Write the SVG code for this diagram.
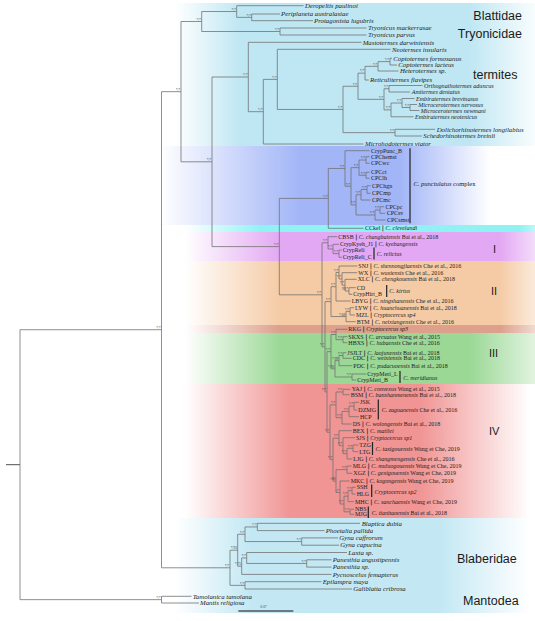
<svg xmlns="http://www.w3.org/2000/svg" width="535" height="621" viewBox="0 0 535 621">
<style>
.e{fill:none;stroke:#727272;stroke-width:0.8}
.t{font-family:"Liberation Serif",serif;font-style:italic;font-size:6.8px;fill:#222}
.tt{font-size:6.1px}
.c{font-family:"Liberation Serif",serif;font-size:6px;fill:#222}
.i{font-style:italic}
.b{font-family:"DejaVu Sans",sans-serif;font-weight:bold}
.s{font-family:"Liberation Serif",serif;font-size:3.6px;fill:#444;text-anchor:end}
.g{font-family:"Liberation Sans",Arial,sans-serif;font-size:12.5px;fill:#1a1a1a}
.r{font-family:"Liberation Sans",Arial,sans-serif;font-size:11px;fill:#1a1a1a}
.vb{stroke:#222;stroke-width:1.2}
</style>
<defs>
<linearGradient id="gTop" gradientUnits="userSpaceOnUse" x1="150" y1="0" x2="535" y2="0"><stop offset="0.065" stop-color="#bfe7f3" stop-opacity="0"/><stop offset="0.234" stop-color="#bfe7f3"/><stop offset="0.831" stop-color="#bfe7f3"/><stop offset="1" stop-color="#bfe7f3" stop-opacity="0.1"/></linearGradient>
<linearGradient id="gCpx" gradientUnits="userSpaceOnUse" x1="150" y1="0" x2="535" y2="0"><stop offset="0.026" stop-color="#a2b5f7" stop-opacity="0"/><stop offset="0.39" stop-color="#a2b5f7"/><stop offset="0.649" stop-color="#a2b5f7"/><stop offset="0.883" stop-color="#a2b5f7" stop-opacity="0"/></linearGradient>
<linearGradient id="gCyn" gradientUnits="userSpaceOnUse" x1="150" y1="0" x2="535" y2="0"><stop offset="0.091" stop-color="#90f3f3" stop-opacity="0"/><stop offset="0.286" stop-color="#90f3f3"/><stop offset="0.96" stop-color="#90f3f3"/><stop offset="1" stop-color="#90f3f3" stop-opacity="0.6"/></linearGradient>
<linearGradient id="gPnk" gradientUnits="userSpaceOnUse" x1="150" y1="0" x2="535" y2="0"><stop offset="0.091" stop-color="#e3a8f3" stop-opacity="0"/><stop offset="0.338" stop-color="#e3a8f3"/><stop offset="0.909" stop-color="#e3a8f3"/><stop offset="1" stop-color="#e3a8f3" stop-opacity="0.4"/></linearGradient>
<linearGradient id="gOrg" gradientUnits="userSpaceOnUse" x1="150" y1="0" x2="535" y2="0"><stop offset="0.091" stop-color="#f5cba6" stop-opacity="0"/><stop offset="0.338" stop-color="#f5cba6"/><stop offset="0.909" stop-color="#f5cba6"/><stop offset="1" stop-color="#f5cba6" stop-opacity="0.4"/></linearGradient>
<linearGradient id="gBrn" gradientUnits="userSpaceOnUse" x1="150" y1="0" x2="535" y2="0"><stop offset="0.091" stop-color="#dca08d" stop-opacity="0"/><stop offset="0.338" stop-color="#dca08d"/><stop offset="0.909" stop-color="#dca08d"/><stop offset="1" stop-color="#dca08d" stop-opacity="0.4"/></linearGradient>
<linearGradient id="gGrn" gradientUnits="userSpaceOnUse" x1="150" y1="0" x2="535" y2="0"><stop offset="0.091" stop-color="#9bd896" stop-opacity="0"/><stop offset="0.338" stop-color="#9bd896"/><stop offset="0.831" stop-color="#9bd896"/><stop offset="1" stop-color="#9bd896" stop-opacity="0.3"/></linearGradient>
<linearGradient id="gRed" gradientUnits="userSpaceOnUse" x1="150" y1="0" x2="535" y2="0"><stop offset="0.091" stop-color="#f19494" stop-opacity="0"/><stop offset="0.364" stop-color="#f19494"/><stop offset="0.701" stop-color="#f19494"/><stop offset="0.987" stop-color="#f19494" stop-opacity="0"/></linearGradient>
<linearGradient id="gBlb" gradientUnits="userSpaceOnUse" x1="150" y1="0" x2="535" y2="0"><stop offset="0.065" stop-color="#c3e8f4" stop-opacity="0"/><stop offset="0.26" stop-color="#c3e8f4"/><stop offset="0.753" stop-color="#c3e8f4"/><stop offset="0.987" stop-color="#c3e8f4" stop-opacity="0"/></linearGradient>
</defs>
<rect width="535" height="621" fill="#fff"/>
<g id="bands">
<rect x="150" y="3" width="385" height="143" fill="url(#gTop)"/>
<rect x="150" y="146" width="385" height="79" fill="url(#gCpx)"/>
<rect x="150" y="225" width="385" height="7" fill="url(#gCyn)"/>
<rect x="150" y="232" width="385" height="29" fill="url(#gPnk)"/>
<rect x="150" y="261" width="385" height="64" fill="url(#gOrg)"/>
<rect x="150" y="325" width="385" height="8" fill="url(#gBrn)"/>
<rect x="150" y="333" width="385" height="51" fill="url(#gGrn)"/>
<rect x="150" y="384" width="385" height="134" fill="url(#gRed)"/>
<rect x="150" y="518" width="385" height="95" fill="url(#gBlb)"/>
</g>
<g id="connectors">
<path d="M6,464.69H20" stroke="#222" stroke-width="0.8" fill="none"/>
<path class="e" d="M20,329.73V599.65M20,329.73H161.5M20,599.65H161.5
M161.5,596.3V603M161.5,596.3H191.5M161.5,603H199
M161.5,91.66V567.79M161.5,91.66H181M161.5,567.79H230
M181,21.51V161.8M181,21.51H201.7M181,161.8H212
M201.7,11.525V31.5M201.7,11.525H236.7M201.7,31.5H280
M236.7,5.7V17.35M236.7,5.7H303.5M236.7,17.35H251.7
M251.7,14V20.7M251.7,14H280M251.7,20.7H313
M280,28V35M280,28H366.5M280,35H366.5
M212,77V246.6M212,77H248.3M212,246.6H279.3
M248.3,42.3V111.69M248.3,42.3H361.5M248.3,111.69H263.3
M263.3,79.38V144M263.3,79.38H277.3M263.3,144H363.5
M277.3,49.3V109.45M277.3,49.3H390.5M277.3,109.45H343
M343,86.25V132.65M343,86.25H358M343,132.65H395
M358,73.16V99.33M358,73.16H365M358,99.33H384
M365,66.33V80M365,66.33H378M365,80H368.8
M378,61.65V71M378,61.65H390M378,71H398.5
M390,58.3V65M390,58.3H392M390,65H397
M384,88.75V109.9M384,88.75H389M384,109.9H391
M389,85.5V92M389,85.5H422.5M389,92H410
M391,103V116.8M391,103H402M391,116.8H413.5
M402,98.5V107.5M402,98.5H414.5M402,107.5H410
M410,104.5V110.5M410,104.5H417M410,110.5H419.5
M395,129.3V136M395,129.3H435M395,136H422
M279.3,198.39V294.82M279.3,198.39H328.3M279.3,294.82H322
M328.3,168.48V228.3M328.3,168.48H345M328.3,228.3H363.5
M345,150.7V186.26M345,150.7H369.5M345,186.26H351
M351,167.65V204.88M351,167.65H359M351,204.88H356
M359,160V175.3M359,160H366M359,175.3H366
M366,156.7V163.3M366,156.7H369.5M366,163.3H369.5
M366,172.3V178.3M366,172.3H369.5M366,178.3H369.5
M356,194.75V215M356,194.75H361M356,215H375
M361,189.5V200M361,189.5H367M361,200H370.5
M367,185.7V193.3M367,185.7H370.5M367,193.3H370.5
M375,210V220M375,210H380M375,220H385.5
M380,206.7V213.3M380,206.7H384M380,213.3H385
M322,242.84V346.79M322,242.84H328M322,346.79H325
M328,236.7V248.98M328,236.7H337.3M328,248.98H333
M333,244.3V253.65M333,244.3H339M333,253.65H339
M339,250V257.3M339,250H341.7M339,257.3H341.7
M325,301.63V391.95M325,301.63H331M325,391.95H327
M331,286.73V316.53M331,286.73H336M331,316.53H346
M336,272.46V301M336,272.46H339M336,301H350.7
M339,266V278.93M339,266H357.3M339,278.93H342
M342,272.7V285.15M342,272.7H357.3M342,285.15H345
M345,279.3V291M345,279.3H356.7M345,291H349
M349,287.7V294.3M349,287.7H355.7M349,294.3H352.3
M346,311.35V321.7M346,311.35H350M346,321.7H355.7
M350,307.7V315M350,307.7H354M350,315H355
M327,351.65V432.25M327,351.65H331M327,432.25H330
M331,334.5V368.8M331,334.5H336M331,368.8H335
M336,329.3V339.7M336,329.3H347.3M336,339.7H343
M343,336.7V342.7M343,336.7H347.3M343,342.7H347.3
M335,360.6V377M335,360.6H339M335,377H352
M339,355.5V365.7M339,355.5H343M339,365.7H352.3
M343,352.7V358.3M343,352.7H346.3M343,358.3H351.7
M352,374V380M352,374H366.3M352,380H356.3
M330,404.86V459.64M330,404.86H336M330,459.64H333
M336,392V417.71M336,392H343M336,417.71H342
M343,389.3V394.7M343,389.3H350.7M343,394.7H349.7
M342,411.43V424M342,411.43H349M342,424H351.7
M349,406.15V416.7M349,406.15H354M349,416.7H359
M354,402.3V410M354,402.3H359M354,410H357.3
M333,438.2V481.08M333,438.2H339M333,481.08H336
M339,430.7V445.69M339,430.7H351.7M339,445.69H343
M343,437.7V453.68M343,437.7H355M343,453.68H347
M347,448.35V459M347,448.35H353M347,459H352.3
M353,445V451.7M353,445H358.3M353,451.7H358.3
M336,469.65V492.5M336,469.65H347M336,492.5H340
M347,466V473.3M347,466H351.7M347,473.3H352.3
M340,481V503.99M340,481H349.7M340,503.99H344
M344,496.18V511.8M344,496.18H348M344,511.8H350
M348,490.65V501.7M348,490.65H352M348,501.7H354
M352,487.3V494M352,487.3H355.7M352,494H355.7
M350,509.3V514.3M350,509.3H354M350,514.3H354
M230,550.22V585.35M230,550.22H237.7M230,585.35H245
M237.7,534.25V566.19M237.7,534.25H245M237.7,566.19H241.7
M245,526.95V541.55M245,526.95H257.3M245,541.55H301.7
M257.3,523.3V530.6M257.3,523.3H360M257.3,530.6H324.5
M301.7,537.9V545.2M301.7,537.9H338M301.7,545.2H339
M241.7,557.98V574.4M241.7,557.98H246.7M241.7,574.4H331.5
M246.7,552.5V563.45M246.7,552.5H347M246.7,563.45H306.7
M306.7,559.8V567.1M306.7,559.8H331.5M306.7,567.1H331.5
M245,581.7V589M245,581.7H321.5M245,589H352"/>
<path class="vb" d="M410,148.3V223.3M374,247.5V259.5M386.7,285V297M400,371V383M378.3,399.5V419.5M372.5,442V455M371.7,484.5V497M368.3,506.5V518"/>
</g>
<g id="support">
<text class="s" x="160.9" y="598.85">*/*</text><text class="s" x="160.9" y="328.9">*/*</text>
<text class="s" x="180.4" y="90.9">*/*</text><text class="s" x="201.1" y="20.7">*/*</text>
<text class="s" x="236.1" y="10.7">*/*</text><text class="s" x="251.1" y="16.5">*/*</text>
<text class="s" x="279.4" y="30.7">*/*</text><text class="s" x="211.4" y="161">*/*</text>
<text class="s" x="247.7" y="76.2">*/*</text><text class="s" x="262.7" y="110.9">*/*</text>
<text class="s" x="276.7" y="78.6">*/*</text><text class="s" x="342.4" y="108.6">*/*</text>
<text class="s" x="357.4" y="85.5">*/*</text><text class="s" x="364.4" y="72.4">*/*</text>
<text class="s" x="377.4" y="65.5">*/*</text><text class="s" x="389.4" y="60.9">*/*</text>
<text class="s" x="383.4" y="98.5">*/*</text><text class="s" x="388.4" y="88">*/*</text>
<text class="s" x="390.4" y="109.1">*/*</text><text class="s" x="401.4" y="102.2">*/*</text>
<text class="s" x="409.4" y="106.7">*/*</text><text class="s" x="394.4" y="131.8">*/*</text>
<text class="s" x="278.7" y="245.8">*/*</text><text class="s" x="327.7" y="197.6">*/*</text>
<text class="s" x="344.4" y="167.7">*/*</text><text class="s" x="350.4" y="185.5">*/*</text>
<text class="s" x="358.4" y="166.8">*/*</text><text class="s" x="365.4" y="159.2">*/*</text>
<text class="s" x="365.4" y="174.5">*/*</text><text class="s" x="355.4" y="204.1">*/*</text>
<text class="s" x="360.4" y="194">*/*</text><text class="s" x="366.4" y="188.7">*/*</text>
<text class="s" x="374.4" y="214.2">*/*</text><text class="s" x="379.4" y="209.2">*/*</text>
<text class="s" x="321.4" y="294">*/*</text><text class="s" x="327.4" y="242">*/*</text>
<text class="s" x="332.4" y="248.2">*/*</text><text class="s" x="338.4" y="252.9">*/*</text>
<text class="s" x="324.4" y="346">*/*</text><text class="s" x="330.4" y="300.8">*/*</text>
<text class="s" x="335.4" y="285.9">*/*</text><text class="s" x="338.4" y="271.7">*/*</text>
<text class="s" x="341.4" y="278.1">*/*</text><text class="s" x="344.4" y="284.4">*/*</text>
<text class="s" x="348.4" y="290.2">99/*</text><text class="s" x="345.4" y="315.7">*/68</text>
<text class="s" x="349.4" y="310.6">*/*</text><text class="s" x="326.4" y="391.2">*/*</text>
<text class="s" x="330.4" y="350.9">*/*</text><text class="s" x="335.4" y="333.7">*/*</text>
<text class="s" x="342.4" y="338.9">*/*</text><text class="s" x="334.4" y="368">*/90</text>
<text class="s" x="338.4" y="359.8">*/99</text><text class="s" x="342.4" y="354.7">*/*</text>
<text class="s" x="351.4" y="376.2">*/*</text><text class="s" x="329.4" y="431.5">*/*</text>
<text class="s" x="335.4" y="404.1">*/*</text><text class="s" x="342.4" y="391.2">*/*</text>
<text class="s" x="341.4" y="416.9">*/*</text><text class="s" x="348.4" y="410.6">*/*</text>
<text class="s" x="353.4" y="405.4">*/*</text><text class="s" x="332.4" y="458.8">*/*</text>
<text class="s" x="338.4" y="437.4">*/*</text><text class="s" x="342.4" y="444.9">*/*</text>
<text class="s" x="346.4" y="452.9">*/*</text><text class="s" x="352.4" y="447.6">*/*</text>
<text class="s" x="335.4" y="480.3">-/88</text><text class="s" x="346.4" y="468.9">*/*</text>
<text class="s" x="339.4" y="491.7">-/*</text><text class="s" x="343.4" y="503.2">*/*</text>
<text class="s" x="347.4" y="495.4">*/*</text><text class="s" x="351.4" y="489.9">*/*</text>
<text class="s" x="349.4" y="511">*/*</text><text class="s" x="229.4" y="567">*/*</text>
<text class="s" x="237.1" y="549.4">*/93</text><text class="s" x="244.4" y="533.5">*/*</text>
<text class="s" x="256.7" y="526.2">*/*</text><text class="s" x="301.1" y="540.8">*/*</text>
<text class="s" x="241.1" y="565.4">*/75</text><text class="s" x="246.1" y="557.2">*/*</text>
<text class="s" x="306.1" y="562.7">*/*</text><text class="s" x="244.4" y="584.6">*/*</text>
</g>
<g id="n-blattidae"><text class="t" x="305" y="7.9">Deropeltis paulinoi</text><text class="t" x="281" y="16.2">Periplaneta australasiae</text><text class="t" x="314" y="22.9">Protagonista lugubris</text></g>
<g id="n-tryonicidae"><text class="t" x="368" y="30.2">Tryonicus mackerrasae</text><text class="t" x="368" y="37.2">Tryonicus parvus</text></g>
<g id="n-termites">
<text class="t" x="362.7" y="44.5">Mastotermes darwiniensis</text>
<text class="t" x="392" y="51.5">Neotermes insularis</text>
<text class="t" x="393.3" y="60.5">Coptotermes formosanus</text>
<text class="t" x="398.3" y="67.2">Coptotermes lacteus</text>
<text class="t" x="400" y="73.2">Heterotermes sp.</text>
<text class="t" x="370" y="82.2">Reticulitermes flavipes</text>
<text class="t tt" x="424" y="87.6">Orthognathotermes aduncus</text>
<text class="t tt" x="411.7" y="94.1">Amitermes dentatus</text>
<text class="t tt" x="416" y="100.6">Embiratermes brevinasus</text>
<text class="t tt" x="418.3" y="106.6">Microcerotermes nervosus</text>
<text class="t tt" x="420.7" y="112.6">Microcerotermes newmani</text>
<text class="t tt" x="415" y="118.9">Embiratermes neotenicus</text>
<text class="t" x="436.7" y="131.5">Dolichorhinotermes longilabius</text>
<text class="t" x="423.3" y="138.2">Schedorhinotermes breinli</text>
<text class="t" x="365" y="146.2">Microhodotermes viator</text>
</g>
<g id="n-punctulatus">
<text class="c" x="371" y="152.7">CrypPunc_B</text><text class="c" x="371" y="158.7">CPChemst</text>
<text class="c" x="371" y="165.3">CPCwc</text><text class="c" x="371" y="174.3">CPCct</text>
<text class="c" x="371" y="180.3">CPClh</text><text class="c" x="372" y="187.7">CPChgn</text>
<text class="c" x="372" y="195.3">CPCmp</text><text class="c" x="372" y="202">CPCmc</text>
<text class="c" x="385.5" y="208.7">CPCpc</text><text class="c" x="386.7" y="215.3">CPCsv</text>
<text class="c" x="387" y="222">CPCsmst</text>
<text class="c" x="413.5" y="185.5" style="font-size:6.5px"><tspan class="i">C. punctulatus</tspan> complex</text>
</g>
<g id="n-clevelandi"><text class="c" x="365" y="230.3">CCkel <tspan class="b">|</tspan> <tspan class="i">C. clevelandi</tspan></text></g>
<g id="n-group1">
<text class="c" x="338.3" y="238.7">CBSB <tspan class="b">|</tspan> <tspan class="i">C. changbaiensis</tspan> Bai et al., 2018</text>
<text class="c" x="340" y="246.3">CrypKyeh_J1 <tspan class="b">|</tspan> <tspan class="i">C. kyebangensis</tspan></text>
<text class="c" x="342.7" y="252">CrypReli</text><text class="c" x="342.7" y="259.3">CrypReli_C</text>
<text class="c i" x="376.7" y="256.3">C. relictus</text>
</g>
<g id="n-group2">
<text class="c" x="358.3" y="268">SNJ <tspan class="b">|</tspan> <tspan class="i">C. shennongjiaensis</tspan> Che et al., 2016</text>
<text class="c" x="358.3" y="274.7">WX <tspan class="b">|</tspan> <tspan class="i">C. wuxiensis</tspan> Che et al., 2016</text>
<text class="c" x="357.7" y="281.3">XLC <tspan class="b">|</tspan> <tspan class="i">C. chengkouensis</tspan> Bai et al., 2018</text>
<text class="c" x="356.7" y="289.7">CD</text><text class="c" x="353.3" y="296.3">CrypHirt_B</text>
<text class="c i" x="389.3" y="293">C. kirtus</text>
<text class="c" x="351.7" y="303">LBYG <tspan class="b">|</tspan> <tspan class="i">C. ningshanensis</tspan> Che et al., 2016</text>
<text class="c" x="355" y="309.7">LYW <tspan class="b">|</tspan> <tspan class="i">C. huanchuanensis</tspan> Bai et al., 2018</text>
<text class="c" x="356" y="317">MZL <tspan class="b">|</tspan> <tspan class="i">Cryptocercus sp4</tspan></text>
<text class="c" x="356.7" y="323.7">BTM <tspan class="b">|</tspan> <tspan class="i">C. neixiangensis</tspan> Che et al., 2016</text>
</g>
<g id="n-group3">
<text class="c" x="348.3" y="331.3">RKG <tspan class="b">|</tspan> <tspan class="i">Cryptocercus sp3</tspan></text>
<text class="c" x="348.3" y="338.7">SKXS <tspan class="b">|</tspan> <tspan class="i">C. arcuatus</tspan> Wang et al., 2015</text>
<text class="c" x="348.3" y="344.7">HBXS <tspan class="b">|</tspan> <tspan class="i">C. hubaensis</tspan> Che et al., 2016</text>
<text class="c" x="347.3" y="354.7">JSJLT <tspan class="b">|</tspan> <tspan class="i">C. laojunensis</tspan> Bai et al., 2018</text>
<text class="c" x="352.7" y="360.3">CDC <tspan class="b">|</tspan> <tspan class="i">C. weixiensis</tspan> Bai et al., 2018</text>
<text class="c" x="353.3" y="367.7">PDC <tspan class="b">|</tspan> <tspan class="i">C. pudacuoensis</tspan> Bai et al., 2018</text>
<text class="c" x="367.3" y="376">CrypMeri_L</text><text class="c" x="357.3" y="382">CrypMeri_B</text>
<text class="c i" x="403.3" y="379.7">C. meridianus</text>
</g>
<g id="n-group4">
<text class="c" x="351.7" y="391.3">YAJ <tspan class="b">|</tspan> <tspan class="i">C. convexus</tspan> Wang et al., 2015</text>
<text class="c" x="350.7" y="396.7">BSM <tspan class="b">|</tspan> <tspan class="i">C. banshanmenensis</tspan> Bai et al., 2018</text>
<text class="c" x="360" y="404.3">JSK</text><text class="c" x="358.3" y="412">DZMG</text><text class="c" x="360" y="418.7">HCP</text>
<text class="c" x="381.7" y="412"><tspan class="i">C. zaguanensis</tspan> Che et al., 2016</text>
<text class="c" x="352.7" y="426">DS <tspan class="b">|</tspan> <tspan class="i">C. wolongensis</tspan> Bai et al., 2018</text>
<text class="c" x="352.7" y="432.7">BEX <tspan class="b">|</tspan> <tspan class="i">C. matilei</tspan></text>
<text class="c" x="356" y="439.7">SJS <tspan class="b">|</tspan> <tspan class="i">Cryptocercus sp1</tspan></text>
<text class="c" x="359.3" y="447">TZG</text><text class="c" x="359.3" y="453.7">LTG</text>
<text class="c" x="375.5" y="451"><tspan class="i">C. taxigouensis</tspan> Wang et Che, 2019</text>
<text class="c" x="353.3" y="461">LJG <tspan class="b">|</tspan> <tspan class="i">C. shangmengensis</tspan> Che et al., 2016</text>
<text class="c" x="352.7" y="468">MLG <tspan class="b">|</tspan> <tspan class="i">C. muluogouensis</tspan> Wang et Che, 2019</text>
<text class="c" x="353.3" y="475.3">XGZ <tspan class="b">|</tspan> <tspan class="i">C. gexigouensis</tspan> Wang et Che, 2019</text>
<text class="c" x="350.7" y="483">MKC <tspan class="b">|</tspan> <tspan class="i">C. kogongensis</tspan> Wang et Che, 2019</text>
<text class="c" x="356.7" y="489.3">SSH</text><text class="c" x="356.7" y="496">HLG</text>
<text class="c i" x="374.5" y="493.7">Cryptocercus sp2</text>
<text class="c" x="355" y="503.7">MHC <tspan class="b">|</tspan> <tspan class="i">C. sanchaensis</tspan> Wang et Che, 2019</text>
<text class="c" x="355" y="511.3">NBS</text><text class="c" x="355" y="516.3">MJG</text>
<text class="c" x="371.7" y="515.3"><tspan class="i">C. tianbaoensis</tspan> Bai et al., 2018</text>
</g>
<g id="n-blaberidae">
<text class="t" x="361.7" y="525.5">Blaptica dubia</text>
<text class="t" x="325.7" y="532.8">Phoetalia pallida</text>
<text class="t" x="339.3" y="540.1">Gyna caffrorum</text>
<text class="t" x="340.3" y="547.4">Gyna capucina</text>
<text class="t" x="348.3" y="554.7">Laxta sp.</text>
<text class="t" x="332.7" y="562">Panesthia angustipennis</text>
<text class="t" x="332.7" y="569.3">Panesthia sp.</text>
<text class="t" x="332.7" y="576.6">Pycnoscelus femapterus</text>
<text class="t" x="322.7" y="583.9">Epilampra maya</text>
<text class="t" x="353.3" y="591.2">Galiblatta cribrosa</text>
</g>
<g id="n-mantodea">
<text class="t" x="192.7" y="598.5">Tamolanica tamolana</text>
<text class="t" x="200" y="605.2">Mantis religiosa</text>
</g>
<g id="labels">
<text class="g" x="522" y="19.5" text-anchor="end">Blattidae</text>
<text class="g" x="522" y="37.5" text-anchor="end">Tryonicidae</text>
<text class="g" x="473" y="78.5">termites</text>
<text class="r" x="493" y="253">I</text>
<text class="r" x="491" y="295">II</text>
<text class="r" x="489" y="357">III</text>
<text class="r" x="489" y="435">IV</text>
<text class="g" x="457" y="563">Blaberidae</text>
<text class="g" x="463" y="605">Mantodea</text>
</g>
<g id="scale">
<path d="M238.3,611H293.3" stroke="#111" stroke-width="1"/>
<text class="s" x="266.5" y="607.8">0.07</text>
</g>
</svg>
